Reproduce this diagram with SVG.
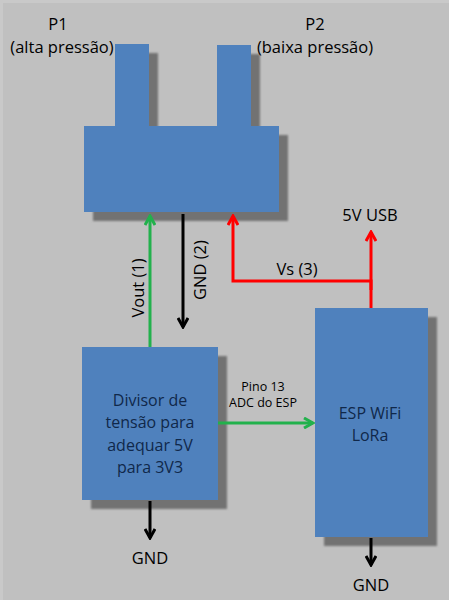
<svg xmlns="http://www.w3.org/2000/svg" width="449" height="600" viewBox="0 0 449 600">
<defs>
<filter id="sh" x="-20%" y="-20%" width="150%" height="150%">
<feGaussianBlur stdDeviation="1.2"/>
</filter>
<marker id="ag" viewBox="0 0 12 12" refX="10" refY="6" markerWidth="12" markerHeight="12" markerUnits="userSpaceOnUse" orient="auto">
<path d="M1,1 L10,6 L1,11" fill="none" stroke="#22b14c" stroke-width="3"/>
</marker>
<marker id="ak" viewBox="0 0 12 12" refX="10" refY="6" markerWidth="12" markerHeight="12" markerUnits="userSpaceOnUse" orient="auto">
<path d="M1,1 L10,6 L1,11" fill="none" stroke="#000" stroke-width="3"/>
</marker>
<marker id="ar" viewBox="0 0 12 12" refX="10" refY="6" markerWidth="12" markerHeight="12" markerUnits="userSpaceOnUse" orient="auto">
<path d="M1,1 L10,6 L1,11" fill="none" stroke="#ff0000" stroke-width="3"/>
</marker>
</defs>
<style>
.blk{fill:#4f81bd}
.shd{fill:#727272;filter:url(#sh)}
.t{font-family:"Open Sans","Liberation Sans",sans-serif;font-size:16.5px;fill:#000;text-anchor:middle}
.tb{font-family:"Open Sans","Liberation Sans",sans-serif;font-size:16px;fill:#10284a;text-anchor:middle}
.ts{font-family:"Open Sans","Liberation Sans",sans-serif;font-size:12.5px;fill:#000;text-anchor:middle}
.g{stroke:#22b14c;stroke-width:3;fill:none}
.k{stroke:#000;stroke-width:3;fill:none}
.r{stroke:#ff0000;stroke-width:3;fill:none}
</style>
<rect x="0" y="0" width="449" height="600" fill="#c9c9c9"/>
<rect x="3" y="3" width="446" height="597" fill="#c0c0c0"/>

<g id="sensor">
<rect class="shd" x="124" y="53" width="34" height="82"/>
<rect class="shd" x="226" y="54" width="34" height="81"/>
<rect class="shd" x="93" y="135" width="195" height="86"/>
<rect class="blk" x="115" y="44" width="34" height="90"/>
<rect class="blk" x="217" y="45" width="34" height="89"/>
<rect class="blk" x="84" y="126" width="195" height="86"/>
<text class="t" x="58" y="30">P1</text>
<text class="t" x="62" y="53">(alta pressão)</text>
<text class="t" x="315" y="30">P2</text>
<text class="t" x="315" y="53">(baixa pressão)</text>
</g>

<g id="divisor">
<rect class="shd" x="91" y="356" width="136" height="153"/>
<rect class="blk" x="82" y="347" width="136" height="153"/>
<text class="tb" x="150" y="406">Divisor de</text>
<text class="tb" x="150" y="428">tensão para</text>
<text class="tb" x="150" y="451">adequar 5V</text>
<text class="tb" x="150" y="473">para 3V3</text>
</g>

<g id="esp">
<rect class="shd" x="324" y="317" width="113" height="229"/>
<rect class="blk" x="315" y="308" width="113" height="229"/>
<text class="tb" x="370" y="419">ESP WiFi</text>
<text class="tb" x="370" y="441">LoRa</text>
</g>

<g id="connectors">
<line class="g" x1="150" y1="347" x2="150" y2="216" marker-end="url(#ag)"/>
<line class="k" x1="183" y1="214" x2="183" y2="327" marker-end="url(#ak)"/>
<polyline class="r" points="371,308 371,281 233,281 233,216" marker-end="url(#ar)"/>
<line class="r" x1="371" y1="290" x2="371" y2="232" marker-end="url(#ar)"/>
<line class="g" x1="218" y1="423" x2="313" y2="423" marker-end="url(#ag)"/>
<line class="k" x1="150" y1="501" x2="150" y2="538" marker-end="url(#ak)"/>
<line class="k" x1="371" y1="538" x2="371" y2="565" marker-end="url(#ak)"/>
<text class="t" transform="translate(144,288) rotate(-90)">Vout (1)</text>
<text class="t" transform="translate(206,270) rotate(-90)">GND (2)</text>
<text class="t" x="297" y="275">Vs (3)</text>
<text class="t" x="370" y="221">5V USB</text>
<text class="ts" x="263" y="391">Pino 13</text>
<text class="ts" x="263" y="407">ADC do ESP</text>
<text class="t" x="150" y="564">GND</text>
<text class="t" x="371" y="591">GND</text>
</g>
</svg>
